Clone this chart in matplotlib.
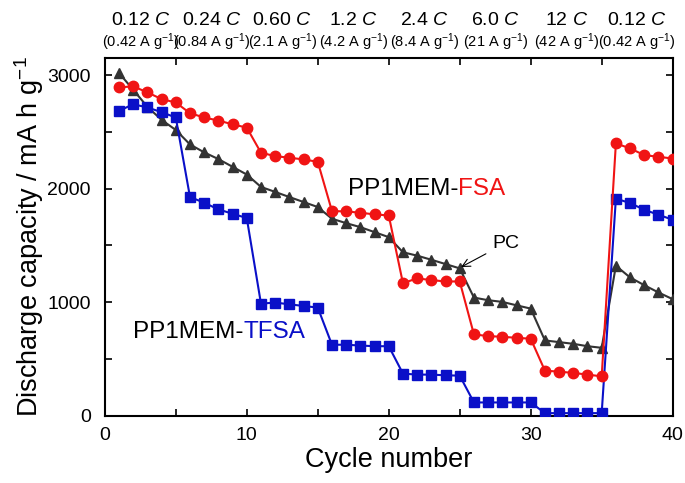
import matplotlib
matplotlib.use("Agg")
import matplotlib.pyplot as plt
from matplotlib.ticker import MultipleLocator

plt.rcParams["font.family"] = ["Liberation Sans", "DejaVu Sans"]
plt.rcParams["mathtext.fontset"] = "custom"
plt.rcParams["mathtext.rm"] = "Liberation Sans"
plt.rcParams["mathtext.it"] = "Liberation Sans:italic"

# ---- data ----
cycles = list(range(1, 41))

fsa = [2891, 2900, 2847, 2788, 2758, 2664, 2626, 2599, 2566, 2537,
       2316, 2286, 2272, 2257, 2236, 1803, 1799, 1788, 1773, 1764,
       1168, 1210, 1195, 1183, 1183, 717, 702, 696, 687, 679,
       398, 389, 378, 363, 348, 2398, 2354, 2295, 2280, 2265]

tfsa = [2684, 2743, 2714, 2673, 2626, 1926, 1876, 1817, 1779, 1741,
        988, 997, 982, 967, 953, 626, 626, 619, 613, 613,
        372, 363, 363, 357, 354, 118, 118, 118, 118, 118,
        24, 24, 24, 24, 24, 1912, 1873, 1814, 1770, 1726]

pc = [3018, 2870, 2720, 2605, 2516, 2389, 2319, 2260, 2192, 2124,
      2015, 1971, 1926, 1882, 1838, 1735, 1696, 1661, 1617, 1573,
      1440, 1410, 1374, 1336, 1298, 1041, 1018, 1003, 973, 944,
      664, 649, 634, 613, 599, 1321, 1218, 1150, 1086, 1027]

rates = ["0.12", "0.24", "0.60", "1.2", "2.4", "6.0", "12", "0.12"]
currents = ["0.42", "0.84", "2.1", "4.2", "8.4", "21", "42", "0.42"]

RED = "#f01414"
BLUE = "#0a10c8"
GREY = "#333333"


def two_tone(ax, x, y, head, tail, color, size):
    # black prefix + coloured suffix on one baseline
    t = ax.text(x, y, head, fontsize=size, ha="left", va="center")
    ax.annotate(tail, xy=(1, 0), xycoords=t, ha="left", va="bottom",
                fontsize=size, color=color)


fig = plt.figure(figsize=(6.85, 4.83), dpi=100)
ax = fig.add_axes([0.153, 0.139, 0.829, 0.741])

ax.plot(cycles, pc, "-^", color=GREY, lw=1.5, ms=6.5, zorder=3)
ax.plot(cycles, tfsa, "-s", color=BLUE, lw=1.5, ms=7.5, zorder=4)
ax.plot(cycles, fsa, "-o", color=RED, lw=1.5, ms=7.5, zorder=5)

ax.set_xlim(0, 40)
ax.set_ylim(0, 3150)
ax.xaxis.set_major_locator(MultipleLocator(10))
ax.xaxis.set_minor_locator(MultipleLocator(5))
ax.yaxis.set_major_locator(MultipleLocator(1000))
ax.yaxis.set_minor_locator(MultipleLocator(500))
ax.tick_params(which="both", direction="in", top=True, right=True,
               width=1.2, length=5, labelsize=14)
ax.tick_params(axis="x", pad=8)
ax.tick_params(axis="y", pad=10)
for s in ax.spines.values():
    s.set_linewidth(1.5)

ax.set_xlabel("Cycle number", fontsize=19.5, labelpad=2)
ax.set_ylabel("Discharge capacity / mA h g$^{\\mathrm{-1}}$", fontsize=19.5,
              labelpad=1)

# rate labels along the top
for i, (r, c) in enumerate(zip(rates, currents)):
    xc = 2.5 + 5 * i
    ax.text(xc, 1.105, f"{r} $\\it{{C}}$", transform=ax.get_xaxis_transform(),
            ha="center", va="center", fontsize=14)
    ax.text(xc, 1.045, f"({c} A g$^{{-1}}$)", transform=ax.get_xaxis_transform(),
            ha="center", va="center", fontsize=10.5)

# series labels
two_tone(ax, 17.1, 2000, "PP1MEM-", "FSA", RED, 17.5)
two_tone(ax, 2.0, 740, "PP1MEM-", "TFSA", BLUE, 17.5)

ax.annotate("PC", xy=(25.1, 1310), xytext=(27.3, 1520), fontsize=14,
            ha="left", va="center",
            arrowprops=dict(arrowstyle="->", color="black", lw=0.8,
                            shrinkA=3, shrinkB=0))

fig.savefig("out.png", dpi=100)
